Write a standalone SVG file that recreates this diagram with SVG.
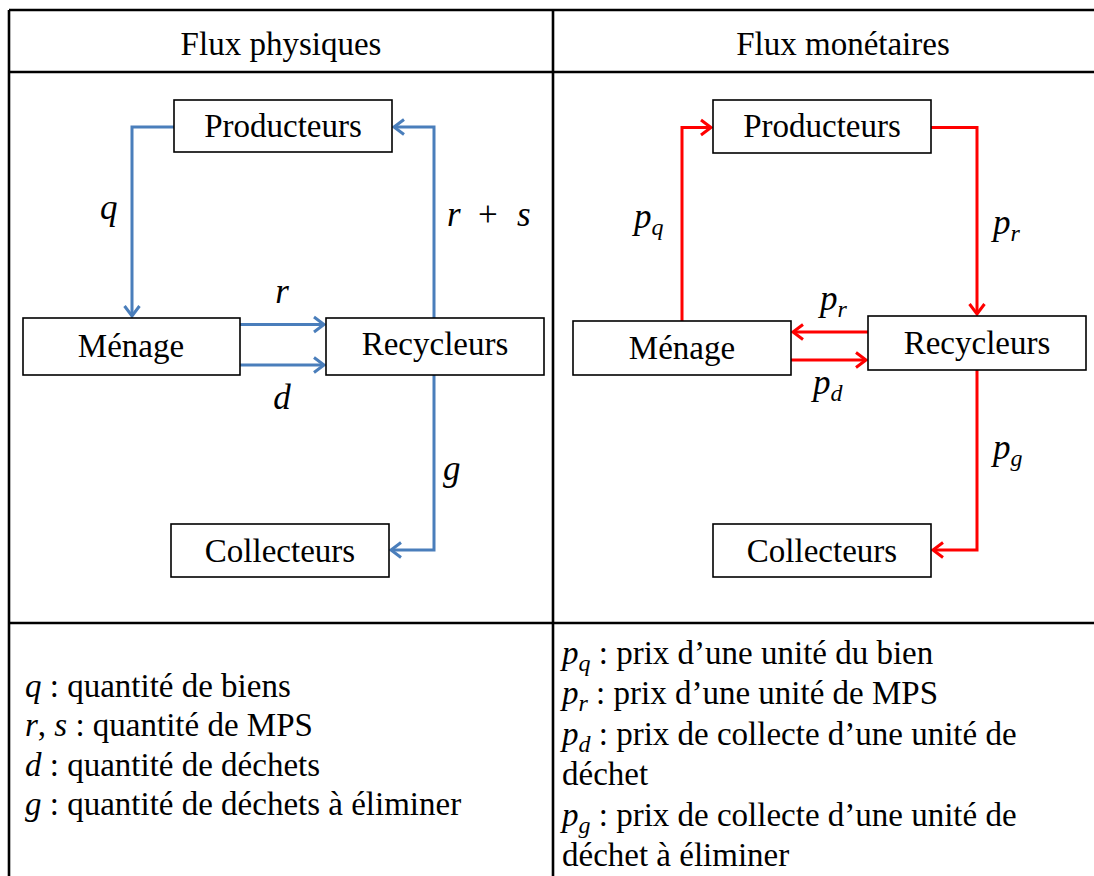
<svg xmlns="http://www.w3.org/2000/svg" width="1094" height="876" viewBox="0 0 1094 876">
<style>
text{font-family:'Liberation Serif','Times New Roman','DejaVu Serif',serif;font-size:33px;fill:#000}
.mi{font-style:italic}
.m{font-size:35px}
.sub{font-size:24px;font-style:italic}
.box{fill:#fff;stroke:#000;stroke-width:1.6}
.grid{stroke:#000;stroke-width:2.6;fill:none}
.blue{fill:none;stroke:#4A7EBB;stroke-width:3}
.red{fill:none;stroke:#FF0000;stroke-width:3}
</style>
<defs>
<marker id="ab" viewBox="-13 -10 16 20" markerWidth="16" markerHeight="20" refX="0" refY="0" orient="auto" markerUnits="userSpaceOnUse">
<path d="M-10,-7.5 L0,0 L-10,7.5" fill="none" stroke="#4A7EBB" stroke-width="3"/>
</marker>
<marker id="ar" viewBox="-13 -10 16 20" markerWidth="16" markerHeight="20" refX="0" refY="0" orient="auto" markerUnits="userSpaceOnUse">
<path d="M-10,-7.5 L0,0 L-10,7.5" fill="none" stroke="#FF0000" stroke-width="3"/>
</marker>
</defs>
<rect width="1094" height="876" fill="#fff"/>
<g id="table">
<line class="grid" x1="9" y1="10" x2="1100" y2="10"/>
<line class="grid" x1="9" y1="10" x2="9" y2="880"/>
<line class="grid" x1="553" y1="10" x2="553" y2="880"/>
<line class="grid" x1="9" y1="72" x2="1100" y2="72"/>
<line class="grid" x1="9" y1="623" x2="1100" y2="623"/>
<text x="281" y="55" text-anchor="middle">Flux physiques</text>
<text x="843" y="55" text-anchor="middle">Flux monétaires</text>
</g>
<g id="connectors">
<path class="blue" d="M174,127 H132 V316" marker-end="url(#ab)"/>
<path class="blue" d="M434,318 V127 H394" marker-end="url(#ab)"/>
<path class="blue" d="M240,324.5 H324" marker-end="url(#ab)"/>
<path class="blue" d="M240,365 H324" marker-end="url(#ab)"/>
<path class="blue" d="M434,375 V550 H391" marker-end="url(#ab)"/>
<path class="red" d="M682,321 V127.5 H711" marker-end="url(#ar)"/>
<path class="red" d="M931,127.5 H977 V314" marker-end="url(#ar)"/>
<path class="red" d="M868,332 H793" marker-end="url(#ar)"/>
<path class="red" d="M791,360 H866" marker-end="url(#ar)"/>
<path class="red" d="M977,370 V550 H933" marker-end="url(#ar)"/>
<text class="mi m" x="100" y="219">q</text>
<text class="m" x="447" y="226"><tspan class="mi">r</tspan><tspan x="478">+</tspan><tspan class="mi" x="517">s</tspan></text>
<text class="mi m" x="282" y="303" text-anchor="middle">r</text>
<text class="mi m" x="282" y="409" text-anchor="middle">d</text>
<text class="mi m" x="443" y="480">g</text>
<text class="mi m" x="634" y="228">p<tspan class="sub" dy="7">q</tspan></text>
<text class="mi m" x="993" y="234">p<tspan class="sub" dy="7">r</tspan></text>
<text class="mi m" x="820" y="310">p<tspan class="sub" dy="7">r</tspan></text>
<text class="mi m" x="813" y="394">p<tspan class="sub" dy="7">d</tspan></text>
<text class="mi m" x="993" y="459">p<tspan class="sub" dy="7">g</tspan></text>
</g>
<g id="producteurs-phys"><rect class="box" x="174" y="100" width="218" height="52"/><text x="283" y="137" text-anchor="middle">Producteurs</text></g>
<g id="menage-phys"><rect class="box" x="23" y="318" width="217" height="57"/><text x="131" y="357" text-anchor="middle">Ménage</text></g>
<g id="recycleurs-phys"><rect class="box" x="326" y="318" width="218" height="57"/><text x="435" y="355" text-anchor="middle">Recycleurs</text></g>
<g id="collecteurs-phys"><rect class="box" x="171" y="524" width="218" height="53"/><text x="280" y="562" text-anchor="middle">Collecteurs</text></g>
<g id="producteurs-mon"><rect class="box" x="713" y="100" width="218" height="53"/><text x="822" y="137" text-anchor="middle">Producteurs</text></g>
<g id="menage-mon"><rect class="box" x="573" y="321" width="218" height="54"/><text x="682" y="359" text-anchor="middle">Ménage</text></g>
<g id="recycleurs-mon"><rect class="box" x="868" y="316" width="218" height="54"/><text x="977" y="354" text-anchor="middle">Recycleurs</text></g>
<g id="collecteurs-mon"><rect class="box" x="713" y="524" width="218" height="53"/><text x="822" y="562" text-anchor="middle">Collecteurs</text></g>
<g id="legend-phys">
<text x="25" y="697"><tspan class="mi">q</tspan> : quantité de biens</text>
<text x="25" y="736"><tspan class="mi">r</tspan>, <tspan class="mi">s</tspan> : quantité de MPS</text>
<text x="25" y="776"><tspan class="mi">d</tspan> : quantité de déchets</text>
<text x="25" y="815"><tspan class="mi">g</tspan> : quantité de déchets à éliminer</text>
</g>
<g id="legend-mon">
<text x="562" y="664"><tspan class="mi">p</tspan><tspan class="sub" dy="7">q</tspan><tspan dy="-7"> : prix d’une unité du bien</tspan></text>
<text x="562" y="704"><tspan class="mi">p</tspan><tspan class="sub" dy="7">r</tspan><tspan dy="-7"> : prix d’une unité de MPS</tspan></text>
<text x="562" y="745"><tspan class="mi">p</tspan><tspan class="sub" dy="7">d</tspan><tspan dy="-7"> : prix de collecte d’une unité de</tspan></text>
<text x="562" y="785">déchet</text>
<text x="562" y="826"><tspan class="mi">p</tspan><tspan class="sub" dy="7">g</tspan><tspan dy="-7"> : prix de collecte d’une unité de</tspan></text>
<text x="562" y="866">déchet à éliminer</text>
</g>
</svg>
